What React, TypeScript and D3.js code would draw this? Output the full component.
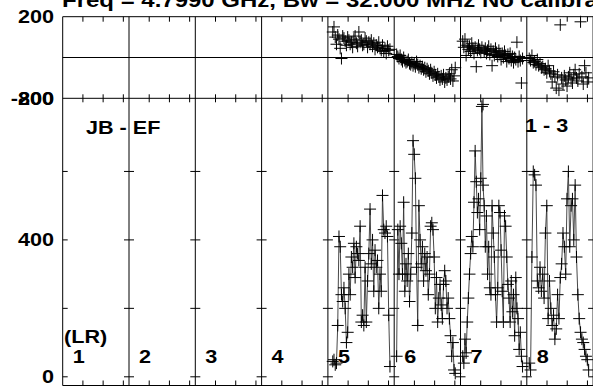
import React from "react";
import * as d3 from "d3";

// ---- data ----
const panelLabels = ["1", "2", "3", "4", "5", "6", "7", "8"];
const phaseTickLabels = ["200", "-200"];
const phaseTickValues = [200, -200];
const ampTickLabels = ["800", "400", "0"];
const ampTickValues = [800, 400, 0];
const ampMinorTicks = [0, 200, 400, 600];
const timeTicks = [1, 2, 3];

// data panels (baselines 5..8), time window per panel (hours within panel)
const dataPanels = [4, 5, 6, 7];
const tStart = [0.24, 0.12, 0.11, 0.12];
const tEnd = [3.07, 3.02, 3.07, 3.06];

const amp5 = [45, 50, 35, 40, 150, 410, 380, 240, 220, 260, 200, 100, 130, 300, 240, 350, 320, 390, 290, 380, 360, 340, 440, 160, 180, 150, 320, 160, 280, 360, 490, 330, 400, 250, 370, 320, 340, 200, 300, 250, 530, 430, 420, 440, 410, 180, 30];
const amp6 = [60, 430, 300, 440, 390, 300, 510, 250, 330, 280, 360, 220, 300, 420, 690, 650, 580, 320, 150, 500, 400, 330, 380, 280, 360, 310, 350, 240, 300, 440, 450, 430, 350, 200, 290, 160, 230, 270, 210, 170, 270, 310, 280, 200, 230, 170, 120, 60, 100, 20, 10];
const amp7 = [60, 40, 110, 70, 160, 230, 300, 360, 410, 380, 510, 660, 570, 480, 520, 430, 580, 790, 560, 500, 380, 470, 300, 380, 260, 240, 500, 420, 350, 240, 160, 260, 500, 480, 370, 250, 160, 470, 440, 350, 270, 230, 160, 280, 190, 240, 120, 290, 200, 170, 80, 130, 60, 30];
const amp8 = [40, 20, 350, 600, 590, 560, 280, 260, 320, 250, 300, 230, 420, 500, 170, 280, 200, 150, 180, 110, 140, 240, 170, 290, 330, 420, 380, 300, 520, 600, 380, 500, 520, 400, 560, 350, 240, 170, 130, 110, 100, 80, 60, 50, 20];

const phase5 = [125, 150, 100, 65, 110, 90, 45, -5, 105, 95, 80, 60, 100, 85, 65, 75, 50, 90, 105, 70, 55, 125, 75, 85, 60, 65, 95, 80, 50, 75, 65, 85, 55, 70, 40, 60, 50, 75, 45, 35, 60, 30, 45, 20, 55, 35, 40];
const phase6 = [15, 5, -5, 10, -10, -20, 0, -15, -25, -20, -10, -30, -35, -25, -40, -30, -45, -20, -35, -50, -40, -55, -45, -60, -50, -70, -55, -65, -80, -60, -75, -90, -70, -85, -100, -80, -95, -110, -90, -105, -85, -120, -100, -110, -95, -80, -105, -60, -115, -90, -50];
const phase7 = [80, 50, 90, 10, 60, 40, 55, 30, 70, 45, 20, 50, -45, 35, 60, 40, 25, 50, -230, 30, 45, 20, 35, 55, 15, 40, -40, 30, 10, 45, 25, 5, 35, 15, -10, 20, 0, 30, 10, -20, 15, -5, 20, -15, 5, -25, 0, -10, 75, -20, 5, -15, -125, -5];
const phase8 = [-5, -15, 10, -25, -20, -35, -10, -40, -30, -50, -45, -60, -55, -75, -40, -65, -80, -120, -70, -95, -150, -85, -160, 160, -100, -130, -90, -110, -140, -95, -75, -105, -125, -85, -60, -100, -115, -80, 175, -95, -130, -40, -75, -120, -100];

const ampSeries = [amp5, amp6, amp7, amp8];
const phaseSeries = [phase5, phase6, phase7, phase8];

const titleText = "Freq = 4.7990 GHz, Bw = 32.000 MHz   No calibration";
const sourceLabel = "JB - EF";
const ifLabel = "1 - 3";
const polLabel = "(LR)";

// ---- layout ----
const W = 593, H = 386;
const plotLeft = 62.7, panelW = 66.3, nPanels = 8;
const phaseTop = 16.7, phaseBottom = 98.3;
const ampTop = 98.3, ampBottom = 385.5;
const FONT = "'Liberation Sans', Arial, Helvetica, sans-serif";
const SX = 1.2;

const yPhase = d3.scaleLinear().domain([-200, 200]).range([phaseBottom, phaseTop]);
const yAmp = d3.scaleLinear().domain([0, 800]).range([376.8, 103.0]);
const panelX = (i: number) =>
  d3.scaleLinear().domain([0, 3.28]).range([plotLeft + i * panelW, plotLeft + (i + 1) * panelW]);

const Label = ({ x, y, text, size = 18, anchor = "start", dy = "0" }: any) => (
  <text
    transform={`translate(${x},${y}) scale(${SX},1)`}
    fontFamily={FONT}
    fontWeight="bold"
    fontSize={size}
    textAnchor={anchor}
    dy={dy}
    fill="#000"
  >
    {text}
  </text>
);

const Cross = ({ x, y, s = 6 }: any) => (
  <path d={`M${x - s},${y}H${x + s}M${x},${y - s}V${y + s}`} stroke="#000" strokeWidth={1} fill="none" />
);

export default function App() {
  const right = plotLeft + nPanels * panelW;
  const line = d3.line<[number, number]>().x((d) => d[0]).y((d) => d[1]);

  return (
    <svg width={W} height={H} style={{ position: "absolute", left: 0, top: 0, background: "#fff" }}>
      <rect width={W} height={H} fill="#fff" />
      {/* title */}
      <Label x={62} y={7} text={titleText} size={20} />

      {/* frame */}
      <g stroke="#000" strokeWidth={1} fill="none">
        <line x1={plotLeft} x2={right} y1={phaseTop} y2={phaseTop} />
        <line x1={plotLeft} x2={right} y1={phaseBottom} y2={phaseBottom} />
        <line x1={plotLeft} x2={right} y1={ampBottom} y2={ampBottom} />
        <line x1={plotLeft} x2={right} y1={yPhase(0)} y2={yPhase(0)} />
        {d3.range(nPanels + 1).map((i) => (
          <line key={"sep" + i} x1={plotLeft + i * panelW} x2={plotLeft + i * panelW} y1={phaseTop} y2={ampBottom} />
        ))}
        {/* time ticks */}
        {d3.range(nPanels).map((i) => {
          const xs = panelX(i);
          return timeTicks.map((t) => (
            <g key={`tt${i}-${t}`}>
              <line x1={xs(t)} x2={xs(t)} y1={phaseTop} y2={phaseTop + 5} />
              <line x1={xs(t)} x2={xs(t)} y1={phaseBottom - 4} y2={phaseBottom + 4} />
              <line x1={xs(t)} x2={xs(t)} y1={ampBottom - 5} y2={ampBottom} />
            </g>
          ));
        })}
        {/* amplitude ticks at separators */}
        {d3.range(nPanels + 1).map((i) =>
          ampMinorTicks.map((v) => (
            <line
              key={`at${i}-${v}`}
              x1={plotLeft + i * panelW - (i === 0 ? 0 : 5)}
              x2={plotLeft + i * panelW + 5}
              y1={yAmp(v)}
              y2={yAmp(v)}
            />
          ))
        )}
      </g>

      {/* axis labels */}
      {phaseTickValues.map((v, k) => (
        <Label key={"pl" + k} x={54} y={yPhase(v)} dy="0.36em" anchor="end" text={phaseTickLabels[k]} />
      ))}
      {ampTickValues.map((v, k) => (
        <Label
          key={"al" + k}
          x={54}
          y={v === 800 ? ampTop : yAmp(v)}
          dy="0.36em"
          anchor="end"
          text={ampTickLabels[k]}
        />
      ))}

      {/* data */}
      {dataPanels.map((p, k) => {
        const xs = panelX(p);
        const amps = ampSeries[k];
        const phs = phaseSeries[k];
        const n = amps.length;
        const tAt = (j: number, m: number) => tStart[k] + ((tEnd[k] - tStart[k]) * j) / (m - 1);
        const ampPts: [number, number][] = amps.map((a, j) => [xs(tAt(j, n)), yAmp(a)]);
        const phPts: [number, number][] = phs.map((a, j) => [xs(tAt(j, phs.length)), yPhase(a)]);
        return (
          <g key={"d" + p}>
            <path d={line(ampPts) || ""} stroke="#333" strokeWidth={0.9} fill="none" />
            {ampPts.map((d, j) => (
              <Cross key={"a" + j} x={d[0]} y={d[1]} />
            ))}
            {phPts.map((d, j) => (
              <Cross key={"p" + j} x={d[0]} y={d[1]} />
            ))}
          </g>
        );
      })}

      {/* panel labels */}
      <Label x={86} y={134} text={sourceLabel} />
      <Label x={525} y={132} text={ifLabel} />
      <Label x={64} y={343} text={polLabel} />
      {panelLabels.map((t, i) => (
        <Label key={"n" + i} x={plotLeft + i * panelW + 10} y={363} text={t} />
      ))}
    </svg>
  );
}
